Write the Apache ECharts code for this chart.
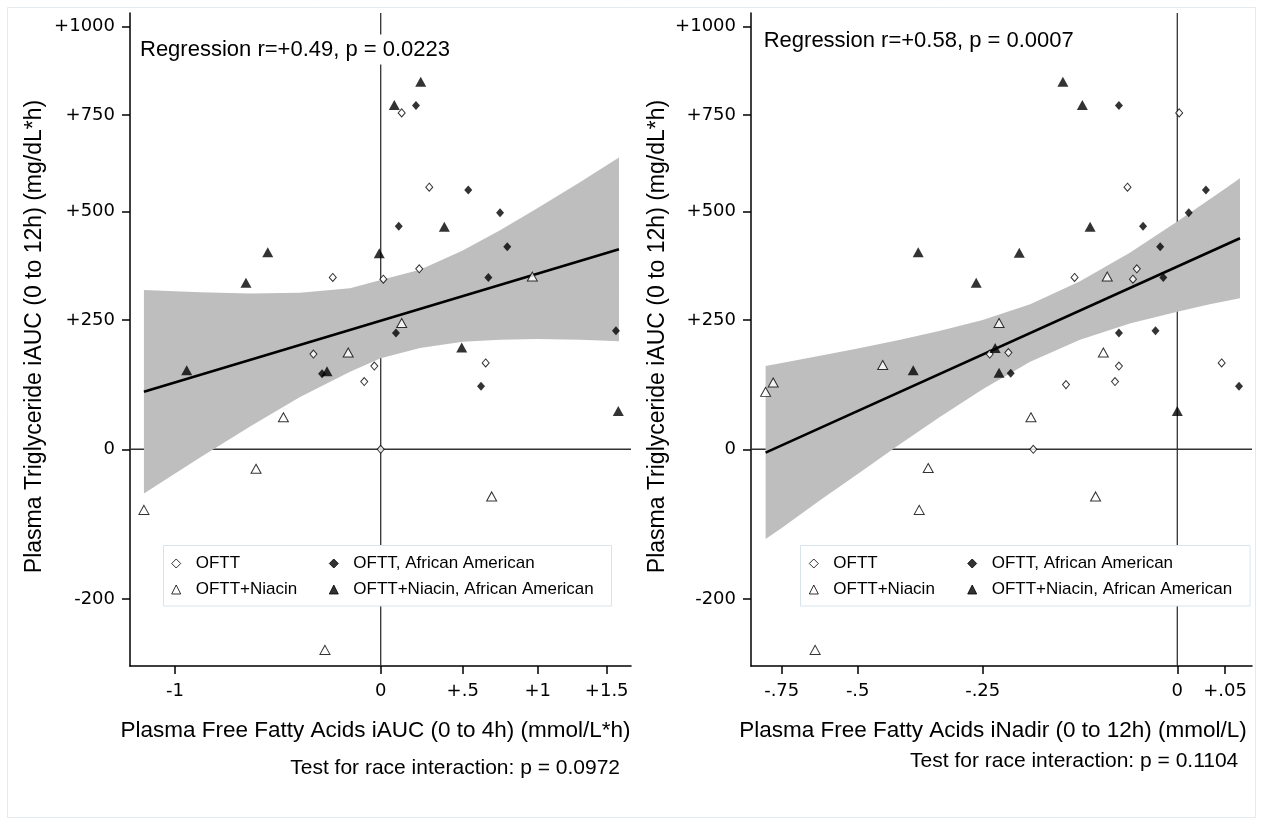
<!DOCTYPE html>
<html><head><meta charset="utf-8">
<script src="https://cdn.jsdelivr.net/npm/echarts@6/dist/echarts.min.js"></script>
<style>html,body{margin:0;padding:0;background:#fff}#c{width:1265px;height:836px}</style>
</head><body><div id="c"></div>
<script>
// ---------------- DATA ----------------
const seriesNames = ['OFTT', 'OFTT+Niacin', 'OFTT, African American', 'OFTT+Niacin, African American'];

// y axis (Plasma Triglyceride iAUC, mg/dL*h) ticks
const yTickValues = [-200, 0, 250, 500, 750, 1000];
const yTickLabels = ['-200', '0', '+250', '+500', '+750', '+1000'];
// x axis ticks, left panel (FFA iAUC 0-4h)
const xTickValuesA = [-1, 0, 0.5, 1, 1.5];
const xTickLabelsA = ['-1', '0', '+.5', '+1', '+1.5'];
// x axis ticks, right panel (FFA iNadir 0-12h)
const xTickValuesB = [-0.75, -0.5, -0.25, 0, 0.05];
const xTickLabelsB = ['-.75', '-.5', '-.25', '0', '+.05'];

// Left panel points [FFA iAUC, TG iAUC]
const ofttA = [[0.128,756],[0.296,563],[0.235,368],[-0.233,348],[0.016,344],[-0.327,184],[0.653,167],[-0.031,161],[-0.080,131],[0.000,0]];
const ofttNiacinA = [[0.964,350],[0.128,244],[-0.158,187],[-0.473,62],[-0.606,-26],[-1.151,-81],[0.693,-63],[-0.271,-268]];
const ofttAAA = [[0.215,777],[0.537,556],[0.749,497],[0.110,466],[0.797,419],[0.671,348],[0.093,225],[1.567,229],[0.622,122],[-0.285,146]];
const ofttNiacinAAA = [[0.244,844],[0.083,778],[0.388,465],[-0.007,404],[-0.549,406],[-0.655,336],[0.494,197],[-0.943,153],[-0.261,151],[1.584,74]];

// Right panel points [FFA iNadir, TG iAUC]
const ofttB = [[0.002,756],[-0.064,563],[-0.052,368],[-0.132,348],[-0.057,344],[-0.241,184],[-0.217,187],[-0.075,161],[-0.143,125],[-0.080,131],[0.0465,167],[-0.185,0]];
const ofttNiacinB = [[-0.090,350],[-0.229,244],[-0.095,187],[-0.803,111],[-0.778,129],[-0.45,163],[-0.188,62],[-0.359,-25],[-0.377,-81],[-0.105,-63],[-0.640,-268]];
const ofttAAB = [[-0.075,777],[0.030,556],[0.012,497],[-0.044,466],[-0.022,419],[-0.018,348],[-0.075,225],[-0.028,229],[-0.214,147],[0.0647,122]];
const ofttNiacinAAB = [[-0.147,844],[-0.122,778],[-0.112,465],[-0.203,405],[-0.379,406],[-0.263,336],[-0.234,196],[-0.389,153],[-0.229,148],[0,74]];

// Regression fits (endpoints) and 95% confidence bands
const regA = [[-1.151,111],[1.589,413]];
const bandAX  = [-1.151,-0.878,-0.635,-0.392,-0.149,0,0.240,0.5,0.749,1.0,1.306,1.5,1.589];
const bandALo = [-59,-11,44,101,150,176,196,208,212,213,212,210,209];
const bandAHi = [319,314,311,313,323,342,366,410,457,509,576,620,640];

const regB = [[-0.803,-4.5],[0.0657,438.5]];
const bandBX  = [-0.803,-0.75,-0.624,-0.5,-0.415,-0.335,-0.25,-0.189,-0.125,-0.061,0,0.034,0.05,0.0657];
const bandBLo = [-120,-105,-68,-33,10,63,116,169,212,243,269,286,293,300];
const bandBHi = [161,167,181,195,212,229,250,286,339,405,477,532,559,586];

const statTextA = 'Regression r=+0.49, p = 0.0223';
const statTextB = 'Regression r=+0.58, p = 0.0007';
const noteA = 'Test for race interaction: p = 0.0972';
const noteB = 'Test for race interaction: p = 0.1104';
const xTitleA = 'Plasma Free Fatty Acids iAUC (0 to 4h) (mmol/L*h)';
const xTitleB = 'Plasma Free Fatty Acids iNadir (0 to 12h) (mmol/L)';
const yTitle = 'Plasma Triglyceride iAUC (0 to 12h) (mg/dL*h)';

// ---------------- AXIS SCALES (transformed axes) ----------------
// position of each tick along the axis, as a fraction of the axis length
const yTickFrac  = [0.1026, 0.3319, 0.5299, 0.6960, 0.8438, 0.9793];
const xTickFracA = [0.0898, 0.5004, 0.6641, 0.8138, 0.9515];
const xTickFracB = [0.0613, 0.2130, 0.4625, 0.8509, 0.9461];

function makeScale(vals, fr) {
  return function (v) {
    let i = 0;
    while (i < vals.length - 2 && v > vals[i + 1]) i++;
    const t = (v - vals[i]) / (vals[i + 1] - vals[i]);
    return fr[i] + t * (fr[i + 1] - fr[i]);
  };
}
const fy = makeScale(yTickValues, yTickFrac);
const fxA = makeScale(xTickValuesA, xTickFracA);
const fxB = makeScale(xTickValuesB, xTickFracB);

function labelFor(fracs, labels) {
  return function (v) {
    let best = 0;
    for (let i = 1; i < fracs.length; i++) if (Math.abs(fracs[i] - v) < Math.abs(fracs[best] - v)) best = i;
    return labels[best];
  };
}

const FONT = '"Liberation Sans", Arial, sans-serif';
const TICKFONT = '"DejaVu Sans", Verdana, sans-serif';

function xAxisFor(gi, fr, labels) {
  return {
    type: 'value', gridIndex: gi, min: 0, max: 1,
    axisLine: { show: true, onZero: false, lineStyle: { color: '#000', width: 1.5 } },
    axisTick: { show: true, customValues: fr, length: 8, lineStyle: { color: '#000', width: 1.5 } },
    axisLabel: { show: true, customValues: fr, formatter: labelFor(fr, labels), margin: 16,
      color: '#000', fontSize: 18, fontFamily: TICKFONT },
    splitLine: { show: false }
  };
}
function yAxisFor(gi) {
  return {
    type: 'value', gridIndex: gi, min: 0, max: 1,
    axisLine: { show: true, onZero: false, lineStyle: { color: '#000', width: 1.5 } },
    axisTick: { show: true, customValues: yTickFrac, length: 8, lineStyle: { color: '#000', width: 1.5 } },
    axisLabel: { show: true, customValues: yTickFrac, formatter: labelFor(yTickFrac, yTickLabels), margin: 15,
      color: '#000', fontSize: 18, fontFamily: TICKFONT },
    splitLine: { show: false }
  };
}

const styles = {
  'OFTT': { symbol: 'diamond', symbolSize: [7, 8], itemStyle: { color: '#fff', borderColor: '#000', borderWidth: 1 } },
  'OFTT+Niacin': { symbol: 'triangle', symbolSize: [10, 9], itemStyle: { color: '#fff', borderColor: '#000', borderWidth: 1 } },
  'OFTT, African American': { symbol: 'diamond', symbolSize: [8, 9], itemStyle: { color: '#000', borderColor: '#000', borderWidth: 0 } },
  'OFTT+Niacin, African American': { symbol: 'triangle', symbolSize: [11, 10], itemStyle: { color: '#000', borderColor: '#000', borderWidth: 0 } }
};

function scatter(name, gi, pts, fx) {
  const s = styles[name];
  return {
    type: 'scatter', name: name, xAxisIndex: gi, yAxisIndex: gi, z: 4,
    symbol: s.symbol, symbolSize: s.symbolSize,
    itemStyle: s.itemStyle, emphasis: { disabled: true }, silent: true,
    data: pts.map(p => [fx(p[0]), fy(p[1])])
  };
}
function zeroLines(gi, fx) {
  const x0 = fx(0), y0 = fy(0);
  return [
    { type: 'line', xAxisIndex: gi, yAxisIndex: gi, z: 1, silent: true, symbol: 'none',
      lineStyle: { color: '#333', width: 1.3 }, data: [[x0, 0], [x0, 1]] },
    { type: 'line', xAxisIndex: gi, yAxisIndex: gi, z: 1, silent: true, symbol: 'none',
      lineStyle: { color: '#333', width: 1.3 }, data: [[0, y0], [1, y0]] }
  ];
}
function band(gi, fx, bx, lo, hi) {
  return {
    type: 'custom', xAxisIndex: gi, yAxisIndex: gi, z: 2, silent: true,
    data: [[0, 0]],
    renderItem: function (params, api) {
      const pts = [];
      for (let i = 0; i < bx.length; i++) pts.push(api.coord([fx(bx[i]), fy(hi[i])]));
      for (let i = bx.length - 1; i >= 0; i--) pts.push(api.coord([fx(bx[i]), fy(lo[i])]));
      return { type: 'polygon', shape: { points: pts }, style: { fill: '#bebebe', stroke: null } };
    }
  };
}
function regLine(gi, fx, reg) {
  return { type: 'line', xAxisIndex: gi, yAxisIndex: gi, z: 3, silent: true, symbol: 'none',
    lineStyle: { color: '#000', width: 2.6 }, data: reg.map(p => [fx(p[0]), fy(p[1])]) };
}

// legend: icon centre at `cx`; text starts ~19px to the right of the icon centre
function legendAt(cx, names) {
  return {
    data: names, orient: 'vertical', left: cx - 4.5, top: 555, padding: 0, itemGap: 9,
    itemWidth: 9, itemHeight: 9, selectedMode: false, z: 7,
    itemStyle: { borderWidth: 1 },
    textStyle: { fontSize: 17, fontFamily: FONT, color: '#000', padding: [0, 0, 0, 10] }
  };
}

function text(str, x, y, size, align, extra) {
  return Object.assign({
    type: 'text', x: x, y: y, z: 8, silent: true,
    style: { text: str, font: size + 'px ' + FONT, fill: '#000',
      textAlign: align, align: align, textVerticalAlign: 'middle', verticalAlign: 'middle' }
  }, extra || {});
}
function boxedText(str, x, y) {
  return {
    type: 'text', x: x, y: y, z: 8, silent: true,
    style: { text: str, font: '22px ' + FONT, fill: '#000',
      textAlign: 'left', align: 'left', textVerticalAlign: 'middle', verticalAlign: 'middle',
      backgroundColor: '#fff', padding: [4, 2] }
  };
}

const option = {
  animation: false,
  backgroundColor: '#fff',
  grid: [
    { left: 130, top: 13, width: 501, height: 653 },
    { left: 751, top: 13, width: 501, height: 653 }
  ],
  xAxis: [xAxisFor(0, xTickFracA, xTickLabelsA), xAxisFor(1, xTickFracB, xTickLabelsB)],
  yAxis: [yAxisFor(0), yAxisFor(1)],
  legend: [
    legendAt(175.7, [seriesNames[0], seriesNames[1]]),
    legendAt(333.3, [seriesNames[2], seriesNames[3]]),
    legendAt(813.3, [seriesNames[0], seriesNames[1]]),
    legendAt(971.7, [seriesNames[2], seriesNames[3]])
  ],
  series: [].concat(
    zeroLines(0, fxA), zeroLines(1, fxB),
    [band(0, fxA, bandAX, bandALo, bandAHi), band(1, fxB, bandBX, bandBLo, bandBHi)],
    [regLine(0, fxA, regA), regLine(1, fxB, regB)],
    [scatter(seriesNames[0], 0, ofttA, fxA), scatter(seriesNames[1], 0, ofttNiacinA, fxA),
     scatter(seriesNames[2], 0, ofttAAA, fxA), scatter(seriesNames[3], 0, ofttNiacinAAA, fxA),
     scatter(seriesNames[0], 1, ofttB, fxB), scatter(seriesNames[1], 1, ofttNiacinB, fxB),
     scatter(seriesNames[2], 1, ofttAAB, fxB), scatter(seriesNames[3], 1, ofttNiacinAAB, fxB)]
  ),
  graphic: [
    { type: 'rect', z: 0, silent: true, shape: { x: 7.5, y: 7.5, width: 1248, height: 810 },
      style: { fill: null, stroke: '#e3ebf0', lineWidth: 1 } },
    { type: 'rect', z: 6, silent: true, shape: { x: 163.5, y: 545.5, width: 448, height: 60.5 },
      style: { fill: '#fff', stroke: '#d8e4ec', lineWidth: 1 } },
    { type: 'rect', z: 6, silent: true, shape: { x: 800.5, y: 545.5, width: 449.5, height: 60.5 },
      style: { fill: '#fff', stroke: '#d8e4ec', lineWidth: 1 } },
    boxedText(statTextA, 138, 49.5),
    boxedText(statTextB, 761.7, 41.3),
    text(xTitleA, 375.5, 731, 22.5, 'center'),
    text(xTitleB, 993, 731, 22.5, 'center'),
    text(noteA, 620, 768, 21, 'right'),
    text(noteB, 1238.3, 761, 21, 'right'),
    text(yTitle, 35, 336.5, 23, 'center', { rotation: Math.PI / 2 }),
    text(yTitle, 658, 336.5, 23, 'center', { rotation: Math.PI / 2 })
  ]
};

const chart = echarts.init(document.getElementById('c'), null, { renderer: 'canvas' });
chart.setOption(option);
</script>
</body></html>
